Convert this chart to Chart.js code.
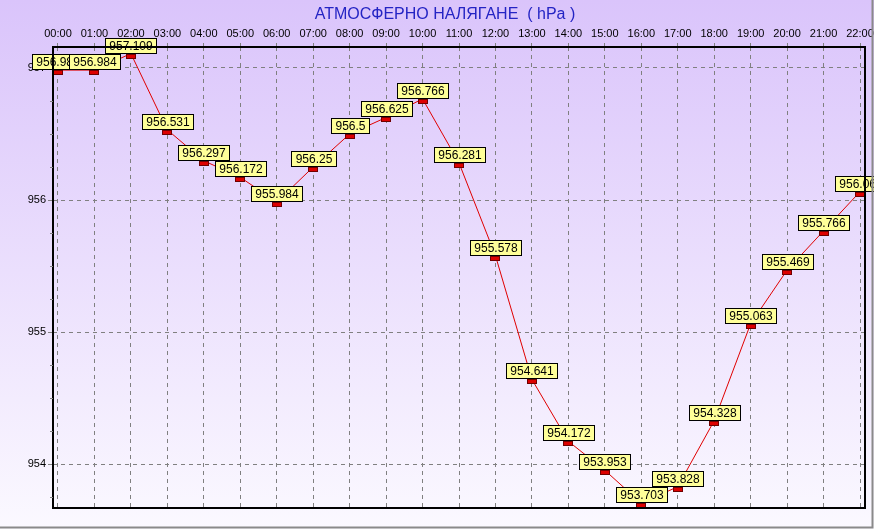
<!DOCTYPE html>
<html>
<head>
<meta charset="utf-8">
<script src="https://cdn.jsdelivr.net/npm/chart.js@4"></script>
<style>
  html, body { margin: 0; padding: 0; background: #ffffff; }
  canvas { display: block; }
</style>
</head>
<body>
<canvas id="c" width="874" height="529"></canvas>
<script>
const categories = ["00:00","01:00","02:00","03:00","04:00","05:00","06:00","07:00","08:00","09:00","10:00","11:00","12:00","13:00","14:00","15:00","16:00","17:00","18:00","19:00","20:00","21:00","22:00"];
const pressure = [956.984, 956.984, 957.109, 956.531, 956.297, 956.172, 955.984, 956.25, 956.5, 956.625, 956.766, 956.281, 955.578, 954.641, 954.172, 953.953, 953.703, 953.828, 954.328, 955.063, 955.469, 955.766, 956.063];
const pointLabels = ["956.984","956.984","957.109","956.531","956.297","956.172","955.984","956.25","956.5","956.625","956.766","956.281","955.578","954.641","954.172","953.953","953.703","953.828","954.328","955.063","955.469","955.766","956.063"];
const yTicks = [954, 955, 956, 957];
const yMinorTicks = [953.75, 954.25, 954.5, 954.75, 955.25, 955.5, 955.75, 956.25, 956.5, 956.75];
const titleText = "АТМОСФЕРНО НАЛЯГАНЕ  ( hPa )";

const FONT = '"Liberation Sans", Arial, sans-serif';

const bgPlugin = {
  id: 'bg',
  beforeDraw(chart) {
    const ctx = chart.ctx;
    const w = chart.width, h = chart.height;
    const g = ctx.createLinearGradient(0, 0, 0, h);
    g.addColorStop(0, '#dac4fb');
    g.addColorStop(1, '#fbf9ff');
    ctx.save();
    ctx.fillStyle = g;
    ctx.fillRect(0, 0, w, h);
    // title
    ctx.fillStyle = '#2424c4';
    ctx.font = '16px ' + FONT;
    ctx.textAlign = 'center';
    ctx.textBaseline = 'middle';
    ctx.fillText(titleText, 445, 15);
    ctx.restore();
  },
  afterDraw(chart) {
    const ctx = chart.ctx;
    const a = chart.chartArea;
    ctx.save();
    ctx.strokeStyle = '#000000';
    ctx.lineWidth = 2;
    ctx.strokeRect(a.left, a.top, a.right - a.left, a.bottom - a.top);
    // outer frame
    ctx.strokeStyle = '#8a8a8a';
    ctx.lineWidth = 2;
    ctx.beginPath();
    ctx.moveTo(0, chart.height - 1.5);
    ctx.lineTo(chart.width - 1.5, chart.height - 1.5);
    ctx.lineTo(chart.width - 1.5, 0);
    ctx.stroke();
    ctx.restore();
  }
};

const minorTickPlugin = {
  id: 'minorTicks',
  afterDraw(chart) {
    const ctx = chart.ctx;
    const ys = chart.scales.y;
    const a = chart.chartArea;
    ctx.save();
    ctx.strokeStyle = '#808080';
    ctx.lineWidth = 1;
    yMinorTicks.forEach(v => {
      const y = Math.round(ys.getPixelForValue(v)) + 0.5;
      ctx.beginPath();
      ctx.moveTo(a.left - 3, y);
      ctx.lineTo(a.left, y);
      ctx.stroke();
    });
    ctx.restore();
  }
};

const labelPlugin = {
  id: 'ptlabels',
  afterDatasetsDraw(chart) {
    const ctx = chart.ctx;
    const meta = chart.getDatasetMeta(0);
    ctx.save();
    // markers
    meta.data.forEach((pt) => {
      const x0 = Math.round(pt.x - 5), y0 = Math.round(pt.y);
      ctx.fillStyle = '#dd0000';
      ctx.fillRect(x0, y0, 10, 5);
      ctx.strokeStyle = '#700000';
      ctx.lineWidth = 1;
      ctx.strokeRect(x0 + 0.5, y0 + 0.5, 9, 4);
    });
    // labels
    ctx.font = '12px ' + FONT;
    ctx.textAlign = 'center';
    ctx.textBaseline = 'middle';
    meta.data.forEach((pt, i) => {
      const txt = pointLabels[i];
      const tw = ctx.measureText(txt).width;
      const bw = Math.round(tw + 8);
      const bh = 15;
      const bx = Math.round(pt.x - bw / 2) + 0.5;
      const by = Math.round(pt.y - bh) - 0.5;
      ctx.fillStyle = '#ffff99';
      ctx.fillRect(bx, by, bw, bh);
      ctx.strokeStyle = '#000000';
      ctx.lineWidth = 1;
      ctx.strokeRect(bx, by, bw, bh);
      ctx.fillStyle = '#000000';
      ctx.fillText(txt, bx + bw / 2, by + bh / 2 + 1);
    });
    ctx.restore();
  }
};

new Chart(document.getElementById('c'), {
  type: 'line',
  data: {
    datasets: [{
      data: pressure.map((v, i) => ({ x: i, y: v })),
      borderColor: '#e00000',
      borderWidth: 1,
      pointRadius: 0,
      tension: 0,
      fill: false
    }]
  },
  options: {
    responsive: false,
    animation: false,
    layout: { padding: { left: 0, right: 9, top: 0, bottom: 21 } },
    plugins: {
      legend: { display: false },
      tooltip: { enabled: false },
      title: { display: false }
    },
    scales: {
      x: {
        type: 'linear',
        position: 'top',
        min: -0.137,
        max: 22.137,
        afterBuildTicks(scale) { scale.ticks = categories.map((c, i) => ({ value: i })); },
        afterFit(scale) { scale.height = 47; scale.paddingLeft = 0; scale.paddingRight = 0; },
        ticks: {
          autoSkip: false,
          maxRotation: 0,
          padding: 2,
          color: '#000000',
          font: { family: FONT, size: 11 },
          callback(v) { return categories[v]; }
        },
        grid: {
          color: '#808080',
          lineWidth: 1,
          tickLength: 4,
          drawTicks: true
        },
        border: { display: false, dash: [4, 4] }
      },
      y: {
        type: 'linear',
        min: 953.667,
        max: 957.159,
        afterBuildTicks(scale) { scale.ticks = yTicks.map(v => ({ value: v })); },
        afterFit(scale) { scale.width = 53; scale.paddingTop = 0; scale.paddingBottom = 0; },
        ticks: {
          padding: 2,
          color: '#000000',
          font: { family: FONT, size: 11 },
          callback(v) { return String(v); }
        },
        grid: {
          color: '#808080',
          lineWidth: 1,
          tickLength: 5
        },
        border: { display: false, dash: [4, 4] }
      }
    }
  },
  plugins: [bgPlugin, minorTickPlugin, labelPlugin]
});
</script>
</body>
</html>
